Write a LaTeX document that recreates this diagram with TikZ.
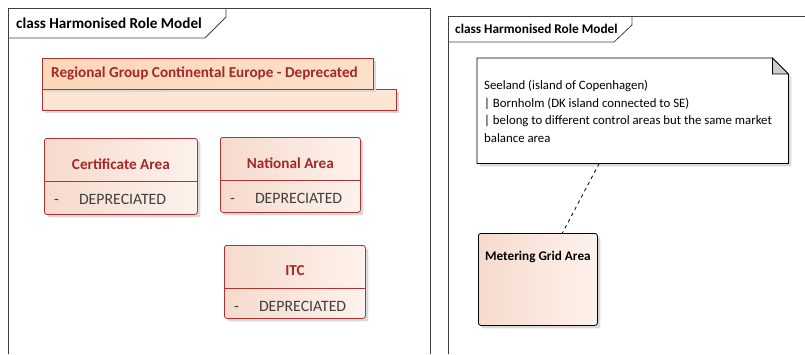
\documentclass[tikz,border=0pt]{standalone}
\usepackage{fontspec}
\setmainfont{Carlito}
\usepackage{tikz}
\usetikzlibrary{positioning, shadows}
\definecolor{classred}{RGB}{176,50,50}
\definecolor{nametext}{RGB}{165,40,40}
\definecolor{peachdark}{RGB}{246,218,205}
\definecolor{peachlight}{RGB}{253,242,236}
\definecolor{regionhead}{RGB}{252,215,185}
\definecolor{regionbody}{RGB}{253,230,212}

\begin{document}
\begin{tikzpicture}[
        x=1pt, y=-1pt,
        every node/.style={inner sep=0pt, font=\fontsize{12}{14}\selectfont},
        frame/.style={draw=black!75, line width=0.8pt},
        frametitle/.style={anchor=west, font=\bfseries\fontsize{15.2}{17}\selectfont},
        umlclass/.style={anchor=north west, draw=classred, line width=0.8pt, rounded corners=2.5pt, left color=peachdark, right color=peachlight, drop shadow={shadow xshift=3pt, shadow yshift=-3pt, fill=black!15, opacity=1}},
        regionbox/.style={anchor=north west, draw=classred, line width=0.8pt, drop shadow={shadow xshift=3pt, shadow yshift=-3pt, fill=black!15, opacity=1}},
        classname/.style={text=nametext, font=\bfseries\fontsize{15.2}{17}\selectfont},
        attr/.style={anchor=west, text=black!75, font=\fontsize{15.8}{18}\selectfont},
        divider/.style={draw=classred, line width=0.8pt},
        notetext/.style={anchor=north west, align=left, font=\fontsize{12.8}{17.5}\selectfont},
        notelink/.style={draw=black, line width=0.8pt, dash pattern=on 3.5pt off 3.5pt}
    ]
    \useasboundingbox (0,0) rectangle (805,354);

    % Frames
    \draw [frame] (8,354) -- (8,8) -- (430,8) -- (430,354);
    \draw [frame] (8,38) -- (205,38) -- (226,17) -- (226,8);
    \node (lefttitle) [frametitle] at (16,23) {class Harmonised Role Model};

    \draw [frame] (448,354) -- (448,16) -- (805,16);
    \draw [frame] (448,42) -- (614,42) -- (632,25) -- (632,16);
    \node (righttitle) [frametitle, font=\bfseries\fontsize{13.3}{15}\selectfont] at (455,29) {class Harmonised Role Model};

    % Nodes
    \node (regionbody) [regionbox, fill=regionbody, minimum width=354pt, minimum height=21pt] at (42,89) {};
    \node (region) [regionbox, left color=regionhead, right color=regionbody!60!regionhead, minimum width=331pt, minimum height=31pt] at (42,58) {};
    \node (regionname) [classname, anchor=west] at ([xshift=9pt]region.west) {Regional Group Continental Europe - Deprecated};

    \foreach \n/\x/\y/\w/\h/\t in {cert/44/138/153/76/Certificate Area, national/220/137/140/75/National Area, itc/224/245/141/73/ITC} {
        \node (\n) [umlclass, minimum width=\w pt, minimum height=\h pt] at (\x,\y) {};
        \draw [divider] ([yshift=-43pt]\n.north west) -- ([yshift=-43pt]\n.north east);
        \node (\n-name) [classname] at ([yshift=-26pt]\n.north) {\t};
        \node (\n-attr) [attr] at ([xshift=10pt, yshift=-61pt]\n.north west) {-\hspace{20pt}DEPRECIATED};
    }

    \node (note) [anchor=north west, minimum width=311pt, minimum height=105pt] at (477,58) {};
    \fill [drop shadow={shadow xshift=3pt, shadow yshift=-3pt, fill=black!15, opacity=1}, white]
        (note.north west) -- ([xshift=-16pt]note.north east) -- ([yshift=-16pt]note.north east) -- (note.south east) -- (note.south west) -- cycle;
    \draw [line width=0.8pt] (note.north west) -- ([xshift=-16pt]note.north east) -- ([yshift=-16pt]note.north east) -- (note.south east) -- (note.south west) -- cycle;
    \filldraw [line width=0.8pt, fill=black!20] ([xshift=-16pt]note.north east) -- ([xshift=-16pt, yshift=-16pt]note.north east) -- ([yshift=-16pt]note.north east) -- cycle;
    \node (notebody) [notetext] at ([xshift=7pt, yshift=-22pt]note.north west) {Seeland (island of Copenhagen)\\| Bornholm (DK island connected to SE)\\| belong to different control areas but the same market\\balance area};

    \node (mga) [umlclass, draw=black, minimum width=119pt, minimum height=92pt] at (478,233) {};
    \node (mganame) [font=\bfseries\fontsize{13.2}{15}\selectfont] at ([yshift=-24pt]mga.north) {Metering Grid Area};

    % Connectors
    \draw [notelink] ([xshift=-33.5pt]note.south) -- ([xshift=24.5pt]mga.north);

\end{tikzpicture}
\end{document}
